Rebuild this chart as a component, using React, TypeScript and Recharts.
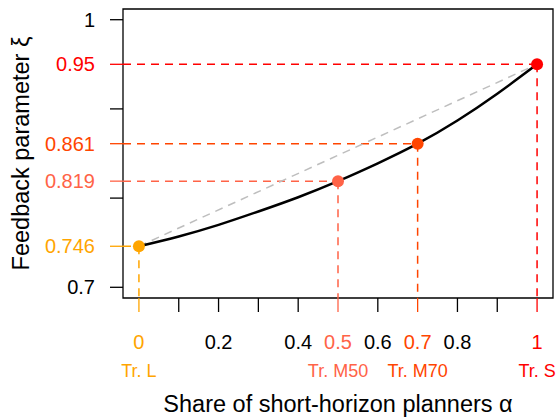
import React from 'react';
import {
  ComposedChart, Line, Scatter, Cell, XAxis, YAxis, ReferenceLine, ReferenceArea
} from 'recharts';

// curve xi(alpha)
const curveAlpha = [0, 0.1, 0.2, 0.3, 0.4, 0.5, 0.6, 0.7, 0.8, 0.9, 1];
const curveXi = [0.746, 0.757, 0.770, 0.785, 0.801, 0.819, 0.839, 0.861, 0.887, 0.917, 0.95];

// treatments
const pointAlpha = [0, 0.5, 0.7, 1];
const pointXi = [0.746, 0.819, 0.861, 0.95];
const pointColors = ['#FFA500', '#FF6347', '#FF4500', '#FF0000'];
const treatmentLabels = ['Tr. L', 'Tr. M50', 'Tr. M70', 'Tr. S'];

// axes
const xTicks = [0, 0.1, 0.2, 0.3, 0.4, 0.5, 0.6, 0.7, 0.8, 0.9, 1];
const xLabelled = [0, 0.2, 0.4, 0.5, 0.6, 0.7, 0.8, 1];
const yTicks = [0.7, 0.746, 0.8, 0.819, 0.861, 0.9, 0.95, 1];
const yLabelled = [0.7, 0.746, 0.819, 0.861, 0.95, 1];

const X_DOMAIN: [number, number] = [-0.04, 1.04];
const Y_DOMAIN: [number, number] = [0.688, 1.012];

const FONT = '"Liberation Sans", Arial, sans-serif';

const curveData = curveAlpha.map((a, i) => ({ a, xi: curveXi[i] }));
const diagData = [
  { a: pointAlpha[0], xi: pointXi[0] },
  { a: pointAlpha[pointAlpha.length - 1], xi: pointXi[pointXi.length - 1] },
];
const pointData = pointAlpha.map((a, i) => ({ a, xi: pointXi[i] }));

const colorFor = (list: number[], v: number) => {
  const i = list.indexOf(v);
  return i >= 0 ? pointColors[i] : '#000';
};

const X_TICK = 14;
const Y_TICK = 13;
const Y_MARGIN = 15;

const XTick = (props: any) => {
  const { x, y, payload } = props;
  const v = payload.value;
  const color = colorFor(pointAlpha, v);
  const idx = pointAlpha.indexOf(v);
  return (
    <g>
      <line x1={x} x2={x} y1={y - X_TICK} y2={y} stroke={color} strokeWidth={1.3} />
      {xLabelled.includes(v) && (
        <text x={x} y={y + 37} textAnchor="middle" fill={color} fontSize={20} fontFamily={FONT}>
          {String(v)}
        </text>
      )}
      {idx >= 0 && (
        <text x={x} y={y + 65} textAnchor="middle" fill={color} fontSize={18} fontFamily={FONT}>
          {treatmentLabels[idx]}
        </text>
      )}
    </g>
  );
};

const YTick = (props: any) => {
  const { x, y, payload } = props;
  const v = payload.value;
  const color = colorFor(pointXi, v);
  return (
    <g>
      <line x1={x + Y_MARGIN} x2={x + Y_MARGIN + Y_TICK} y1={y} y2={y} stroke={color} strokeWidth={1.3} />
      {yLabelled.includes(v) && (
        <text x={x} y={y} dy="0.35em" textAnchor="end" fill={color} fontSize={20} fontFamily={FONT}>
          {String(v)}
        </text>
      )}
    </g>
  );
};

export default function App() {
  return (
    <div style={{ position: 'absolute', left: 0, top: 0, width: 560, height: 419, background: '#fff' }}>
      <ComposedChart width={560} height={419} margin={{ top: 9, right: 7, bottom: 0, left: 0 }}>
        <XAxis
          dataKey="a"
          type="number"
          domain={X_DOMAIN}
          ticks={xTicks}
          interval={0}
          axisLine={false}
          tickLine={false}
          tickSize={X_TICK}
          tickMargin={0}
          height={121}
          tick={<XTick />}
          label={{
            value: 'Share of short-horizon planners α',
            position: 'insideBottom',
            offset: 7,
            fill: '#000',
            fontSize: 23.5,
            fontFamily: FONT,
          }}
        />
        <YAxis
          type="number"
          domain={Y_DOMAIN}
          ticks={yTicks}
          interval={0}
          axisLine={false}
          tickLine={false}
          tickSize={Y_TICK}
          tickMargin={Y_MARGIN}
          width={123}
          tick={<YTick />}
          label={{
            value: 'Feedback parameter  ξ',
            angle: -90,
            position: 'insideLeft',
            offset: 21,
            textAnchor: 'middle',
            fill: '#000',
            fontSize: 23.5,
            fontFamily: FONT,
          }}
        />
        <ReferenceArea
          x1={X_DOMAIN[0]}
          x2={X_DOMAIN[1]}
          y1={Y_DOMAIN[0]}
          y2={Y_DOMAIN[1]}
          fill="none"
          fillOpacity={0}
          stroke="#000"
          strokeWidth={1.3}
        />
        {pointAlpha.map((a, i) => (
          <ReferenceLine
            key={`h-${i}`}
            segment={[{ x: X_DOMAIN[0], y: pointXi[i] }, { x: a, y: pointXi[i] }]}
            stroke={pointColors[i]}
            strokeWidth={1.5}
            strokeDasharray="8 6"
          />
        ))}
        {pointAlpha.map((a, i) => (
          <ReferenceLine
            key={`v-${i}`}
            segment={[{ x: a, y: pointXi[i] }, { x: a, y: Y_DOMAIN[0] }]}
            stroke={pointColors[i]}
            strokeWidth={1.5}
            strokeDasharray="8 6"
          />
        ))}
        <Line
          data={diagData}
          dataKey="xi"
          type="linear"
          stroke="#BEBEBE"
          strokeWidth={1.5}
          strokeDasharray="8 6"
          dot={false}
          isAnimationActive={false}
        />
        <Line
          data={curveData}
          dataKey="xi"
          type="natural"
          stroke="#000"
          strokeWidth={2.5}
          dot={false}
          isAnimationActive={false}
        />
        <Scatter
          data={pointData}
          dataKey="xi"
          isAnimationActive={false}
          shape={(p: any) => <circle cx={p.cx} cy={p.cy} r={6} fill={p.fill} />}
        >
          {pointData.map((_, i) => (
            <Cell key={`c-${i}`} fill={pointColors[i]} />
          ))}
        </Scatter>
      </ComposedChart>
    </div>
  );
}
